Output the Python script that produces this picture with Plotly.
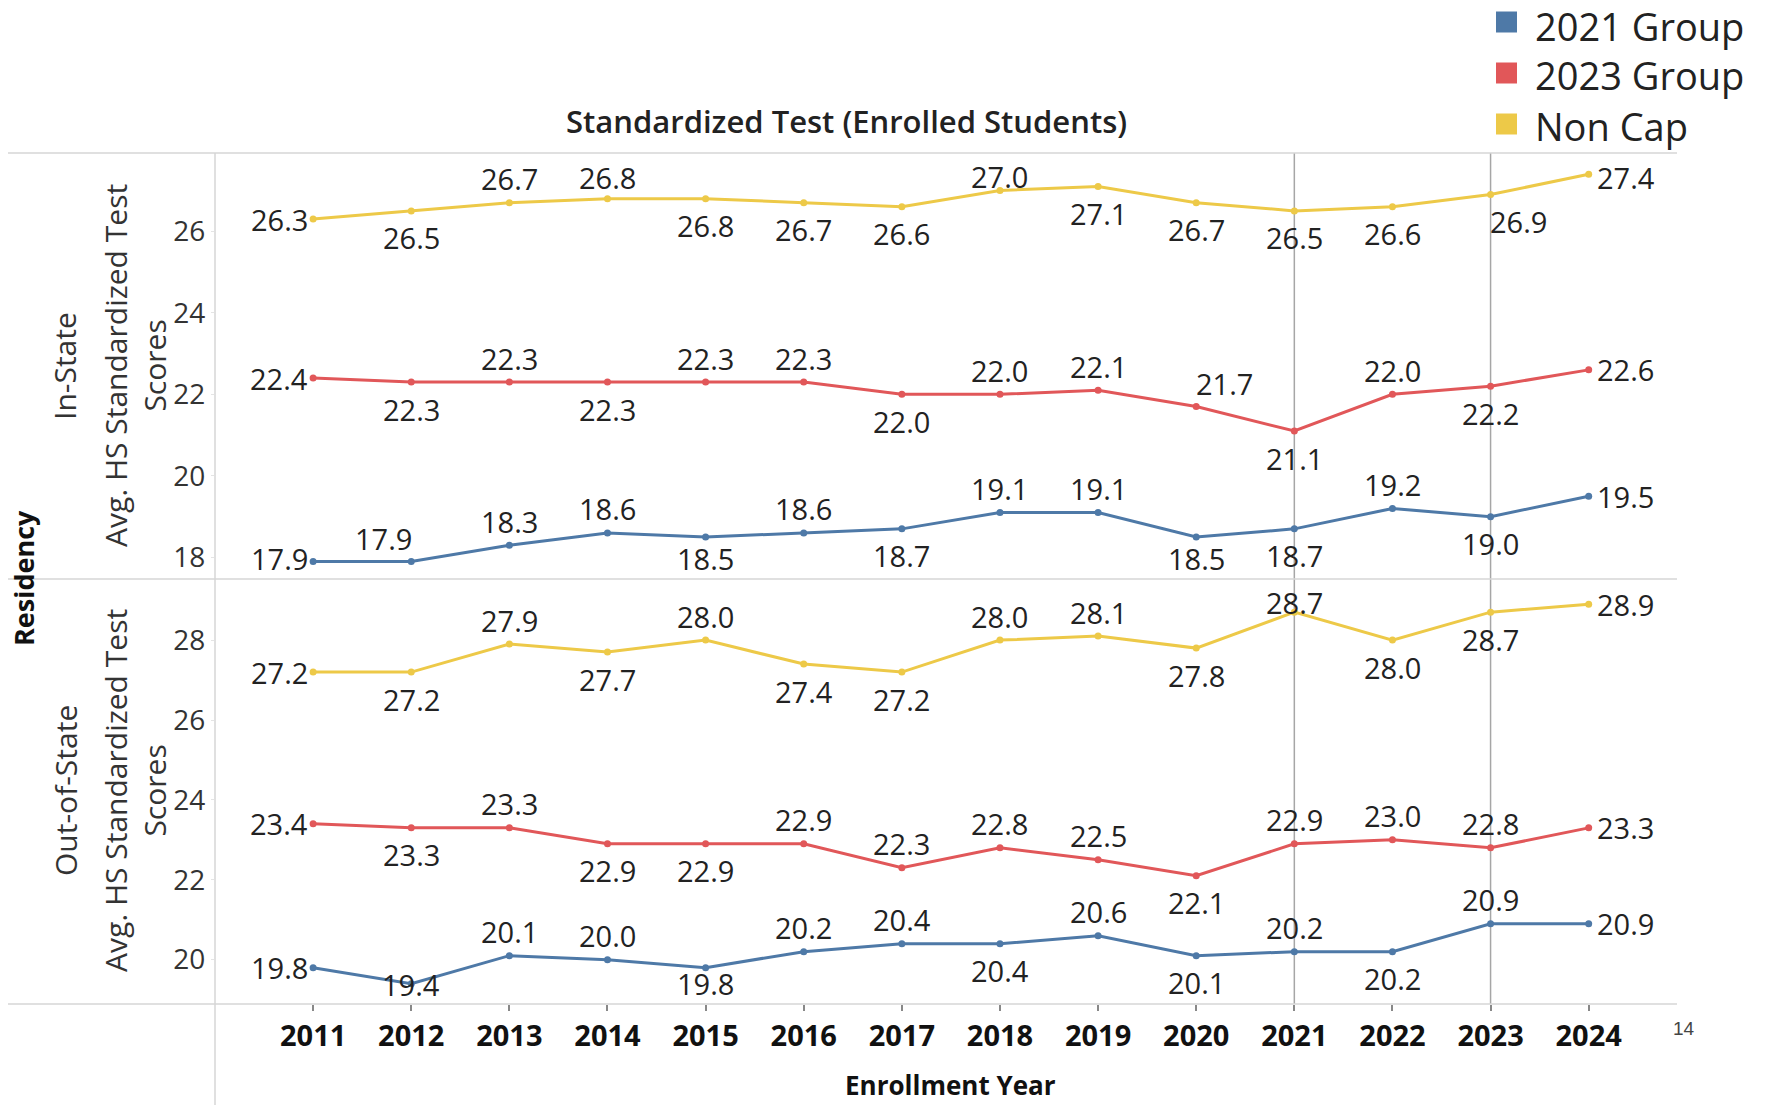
import plotly.graph_objects as go
from plotly.subplots import make_subplots

# ---------------- data ----------------
years = list(range(2011, 2025))
series_names = ["2021 Group", "2023 Group", "Non Cap"]
series_colors = ["#4E79A7", "#E15759", "#EDC948"]

in_2021 = [17.9, 17.9, 18.3, 18.6, 18.5, 18.6, 18.7, 19.1, 19.1, 18.5, 18.7, 19.2, 19.0, 19.5]
in_2023 = [22.4, 22.3, 22.3, 22.3, 22.3, 22.3, 22.0, 22.0, 22.1, 21.7, 21.1, 22.0, 22.2, 22.6]
in_noncap = [26.3, 26.5, 26.7, 26.8, 26.8, 26.7, 26.6, 27.0, 27.1, 26.7, 26.5, 26.6, 26.9, 27.4]
out_2021 = [19.8, 19.4, 20.1, 20.0, 19.8, 20.2, 20.4, 20.4, 20.6, 20.1, 20.2, 20.2, 20.9, 20.9]
out_2023 = [23.4, 23.3, 23.3, 22.9, 22.9, 22.9, 22.3, 22.8, 22.5, 22.1, 22.9, 23.0, 22.8, 23.3]
out_noncap = [27.2, 27.2, 27.9, 27.7, 28.0, 27.4, 27.2, 28.0, 28.1, 27.8, 28.7, 28.0, 28.7, 28.9]

row_labels = ["In-State", "Out-of-State"]
in_ticks = [18, 20, 22, 24, 26]
out_ticks = [20, 22, 24, 26, 28]
reference_years = [2021, 2023]

# label placement codes (style only)
in_2021_pos = "L AL A A B A B A A B B A B R".split()
in_2023_pos = "L B A B A A B A A AR B A B R".split()
in_noncap_pos = "L B A A B B B A B B B B BR R".split()
out_2021_pos = "L B A A B A A B A B A B A R".split()
out_2023_pos = "L B A B B A A A A B A A A R".split()
out_noncap_pos = "L B A B A B B A A B A B B R".split()

W, H = 1777, 1105
def xp(px): return px / W
def yp(py): return 1 - py / H

FONT = "Open Sans"
TXT = "#222222"
LABEL_SIZE = 29

# pane geometry in page pixels: (top, bottom, axis range)
PANES = {1: (153, 579, [17.47, 27.92]), 2: (579, 1004, [18.89, 29.53])}

# (xanchor, xshift, nominal vertical offset in px, up positive)
PLACE = {
    "L": ("right", -3, 0),
    "R": ("left", 6, 0),
    "A": ("center", 0, 24),
    "B": ("center", 0, -27),
    "AL": ("center", -28, 23),
    "AR": ("center", 28, 23),
    "BR": ("center", 28, -27),
}

fig = make_subplots(rows=2, cols=1, shared_xaxes=True, vertical_spacing=0)

ann = []
rows = [
    (1, "x", "y", [in_2021, in_2023, in_noncap], [in_2021_pos, in_2023_pos, in_noncap_pos]),
    (2, "x2", "y2", [out_2021, out_2023, out_noncap], [out_2021_pos, out_2023_pos, out_noncap_pos]),
]
for r, xr, yr, vals, poss in rows:
    top, bot, (lo, hi) = PANES[r]
    for name, color, v, p in zip(series_names, series_colors, vals, poss):
        fig.add_trace(go.Scatter(
            x=years, y=v, mode="lines+markers", name=name,
            line=dict(color=color, width=3),
            marker=dict(color=color, size=7),
            showlegend=False, cliponaxis=False,
        ), row=r, col=1)
        for xv, yv, code in zip(years, v, p):
            xa, xs, ys = PLACE[code]
            # keep the label inside its pane, as the original does
            ppx = top + (hi - yv) / (hi - lo) * (bot - top)
            centre = ppx - ys
            centre = min(max(centre, top + 24), bot - 20)
            ann.append(dict(text=f"{yv:.1f}", x=xv, y=yv, xref=xr, yref=yr,
                            xanchor=xa, yanchor="middle", xshift=xs, yshift=ppx - centre,
                            showarrow=False,
                            font=dict(family=FONT, size=LABEL_SIZE, color=TXT)))

x_dom = [xp(215), xp(1677)]
fig.update_xaxes(range=[2010.0, 2024.9], domain=x_dom, showgrid=False, zeroline=False,
                 tickmode="array", tickvals=years, ticktext=[str(y) for y in years],
                 showline=False)
fig.update_xaxes(row=1, col=1, showticklabels=False, ticks="")
fig.update_xaxes(row=2, col=1, ticks="outside", ticklen=6, tickcolor="#888888", tickwidth=1.5,
                 tickfont=dict(family=FONT, size=29, color="#111111", weight="bold"),
                 ticklabelstandoff=0)

fig.update_yaxes(row=1, col=1, domain=[yp(PANES[1][1]), yp(PANES[1][0])], range=PANES[1][2],
                 tickvals=in_ticks)
fig.update_yaxes(row=2, col=1, domain=[yp(PANES[2][1]), yp(PANES[2][0])], range=PANES[2][2],
                 tickvals=out_ticks)
fig.update_yaxes(showgrid=False, zeroline=False, showline=False, ticks="outside",
                 ticklen=3, tickcolor="#e4e4e4",
                 tickfont=dict(family=FONT, size=28, color="#333333"))

shapes = []
grid = "#d6d6d6"
for py in (153, 579, 1004):
    shapes.append(dict(type="line", xref="paper", yref="paper", x0=xp(8), x1=xp(1677),
                       y0=yp(py), y1=yp(py), line=dict(color=grid, width=1.5)))
shapes.append(dict(type="line", xref="paper", yref="paper", x0=xp(215), x1=xp(215),
                   y0=yp(153), y1=0, line=dict(color=grid, width=1.5)))
for ry in reference_years:
    shapes.append(dict(type="line", xref="x", yref="paper", x0=ry, x1=ry,
                       y0=yp(1004), y1=yp(153), line=dict(color="#a6a6a6", width=1.5),
                       layer="below"))

# legend squares
legend_y = [22, 73, 124]
for name, color, ly in zip(series_names, series_colors, legend_y):
    shapes.append(dict(type="rect", xref="paper", yref="paper",
                       x0=xp(1496), x1=xp(1517), y0=yp(ly + 10.5), y1=yp(ly - 10.5),
                       fillcolor=color, line=dict(width=0)))

for name, ly in zip(series_names, legend_y):
    ann.append(dict(text=name, xref="paper", yref="paper", x=xp(1533), y=yp(max(ly + 2, 26)),
                    xanchor="left", yanchor="middle", showarrow=False,
                    font=dict(family=FONT, size=38, color="#222222")))

ann.append(dict(text="Standardized Test (Enrolled Students)", xref="paper", yref="paper",
                x=xp(846), y=yp(121), xanchor="center", yanchor="middle", showarrow=False,
                font=dict(family=FONT, size=31, color="#222222", weight=600)))

for label, cy in zip(row_labels, [366, 791]):
    ann.append(dict(text=label, xref="paper", yref="paper", x=xp(65), y=yp(cy),
                    xanchor="center", yanchor="middle", textangle=-90, showarrow=False,
                    font=dict(family=FONT, size=30, color="#333333")))
    ann.append(dict(text="Avg. HS Standardized Test<br>Scores", xref="paper", yref="paper",
                    x=xp(135), y=yp(cy), xanchor="center", yanchor="middle", textangle=-90,
                    showarrow=False, font=dict(family=FONT, size=30, color="#333333")))

ann.append(dict(text="Residency", xref="paper", yref="paper", x=xp(23), y=yp(578),
                xanchor="center", yanchor="middle", textangle=-90, showarrow=False,
                font=dict(family=FONT, size=27, color="#111111", weight="bold")))
ann.append(dict(text="Enrollment Year", xref="paper", yref="paper", x=xp(950), y=yp(1085),
                xanchor="center", yanchor="middle", showarrow=False,
                font=dict(family=FONT, size=26, color="#111111", weight="bold")))
ann.append(dict(text="14", xref="paper", yref="paper", x=xp(1684), y=yp(1028),
                xanchor="center", yanchor="middle", showarrow=False,
                font=dict(family="Liberation Sans", size=19, color="#444444")))

fig.update_layout(width=W, height=H, margin=dict(l=0, r=0, t=0, b=0),
                  plot_bgcolor="white", paper_bgcolor="white",
                  shapes=shapes, annotations=ann, showlegend=False,
                  font=dict(family=FONT))

fig.write_html("out.html", config={"displayModeBar": False},
               post_script="document.body.style.margin='0';document.body.style.overflow='hidden';")
